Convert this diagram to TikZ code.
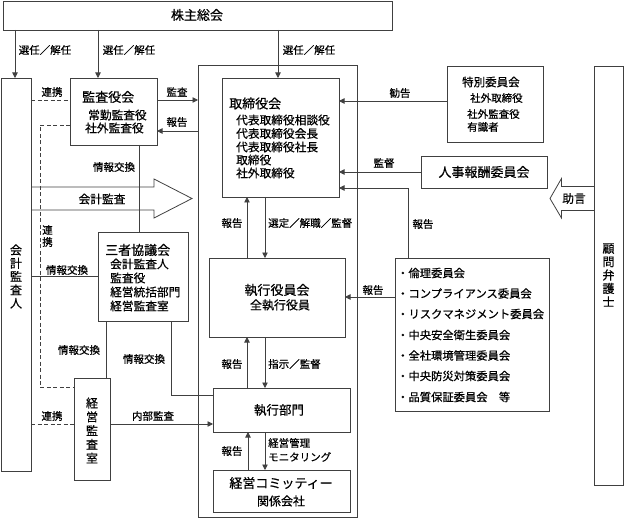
\documentclass[tikz,border=0pt]{standalone}
\usepackage{fontspec}
\setmainfont{Noto Sans CJK JP}[FakeBold=0.6]
\usetikzlibrary{arrows.meta}
\newcommand\bx[5]{\node[box, anchor=north west, inner sep=0pt, outer sep=0pt, minimum width=#4pt-#2pt, minimum height=#5pt-#3pt] (#1) at (#2,#3) {};}
\begin{document}
\begin{tikzpicture}[x=1pt,y=-1pt,
  box/.style={draw=black!75, line width=0.8pt},
  ln/.style={draw=black!75, line width=0.8pt},
  arr/.style={ln, -{Triangle[length=5.5pt,width=5.5pt]}},
  dsh/.style={ln, dash pattern=on 4pt off 2.5pt},
  lb/.style={inner sep=0pt, font=\fontsize{10.5}{12}\selectfont},
  lbm/.style={inner sep=0pt, font=\fontsize{11.7}{13}\selectfont},
  tt/.style={inner sep=0pt, font=\fontsize{13}{15}\selectfont},
  st/.style={inner sep=0pt, font=\fontsize{11.7}{13}\selectfont},
  li/.style={inner sep=0pt, anchor=west, font=\fontsize{11.3}{13}\selectfont},
]
\useasboundingbox (0,0) rectangle (625,519);

% boxes
\bx{sh}{3}{1}{392}{30}
\bx{kaikei}{1}{78}{31}{471}
\bx{kansa}{70}{78}{157}{145}
\bx{outer}{198}{65}{357}{517}
\bx{tori}{222}{78}{339}{197}
\bx{tokubetsu}{447}{66}{543}{142}
\bx{jinji}{421}{156}{547}{188}
\bx{komon}{594}{66}{623}{485}
\bx{sansha}{98}{232}{188}{321}
\bx{keikan}{74}{378}{110}{480}
\bx{yakuin}{209}{258}{345}{337}
\bx{bumon}{213}{388}{350}{432}
\bx{comm}{213}{470}{350}{512}
\bx{iinkai}{395}{258}{549}{411}

% box texts
\node[tt] (shT) at (197,15) {株主総会};
\node[inner sep=0pt, align=center, font=\fontsize{12}{13.3}\selectfont] (kaikeiT) at (16,276.5) {会\\計\\監\\査\\人};
\node[inner sep=0pt, align=center, font=\fontsize{12}{13.4}\selectfont] (komonT) at (608.5,275) {顧\\問\\弁\\護\\士};
\node[inner sep=0pt, align=center, font=\fontsize{12}{13.8}\selectfont] (keikanT) at (92,430.5) {経\\営\\監\\査\\室};

\node[tt, anchor=west] (kansaT) at (82,97) {監査役会};
\node[st, anchor=west] (kansa1) at (88,115) {常勤監査役};
\node[st, anchor=west] (kansa2) at (85,128) {社外監査役};

\node[tt, anchor=west] (toriT) at (229,103.5) {取締役会};
\node[st, anchor=west] (tori1) at (236,120) {代表取締役相談役};
\node[st, anchor=west] (tori2) at (236,133.5) {代表取締役会長};
\node[st, anchor=west] (tori3) at (236,147) {代表取締役社長};
\node[st, anchor=west] (tori4) at (236,160) {取締役};
\node[st, anchor=west] (tori5) at (236,173) {社外取締役};

\node[inner sep=0pt, anchor=west, font=\fontsize{11.5}{13}\selectfont] (tokuT) at (462,82) {特別委員会};
\node[lb, anchor=west] (toku1) at (470,98) {社外取締役};
\node[lb, anchor=west] (toku2) at (467,114) {社外監査役};
\node[lb, anchor=west] (toku3) at (467,127) {有識者};

\node[tt] (jinjiT) at (484,172) {人事報酬委員会};

\node[tt, anchor=west] (sanshaT) at (105,250) {三者協議会};
\node[st, anchor=west] (sansha1) at (110,264) {会計監査人};
\node[st, anchor=west] (sansha2) at (110,278) {監査役};
\node[st, anchor=west] (sansha3) at (110,292) {経営統括部門};
\node[st, anchor=west] (sansha4) at (110,306) {経営監査室};

\node[tt] (yakuinT) at (277,290) {執行役員会};
\node[inner sep=0pt, font=\fontsize{12}{13}\selectfont] (yakuin1) at (280,305) {全執行役員};
\node[inner sep=0pt, font=\fontsize{12.5}{14}\selectfont] (bumonT) at (279,410) {執行部門};
\node[tt] (commT) at (281,483) {経営コミッティー};
\node[inner sep=0pt, font=\fontsize{12}{13}\selectfont] (comm1) at (281,501) {関係会社};

\node[li] (i1) at (397,273) {・倫理委員会};
\node[li] (i2) at (397,293.5) {・コンプライアンス委員会};
\node[li] (i3) at (397,314) {・リスクマネジメント委員会};
\node[li] (i4) at (397,335) {・中央安全衛生委員会};
\node[li] (i5) at (397,355.5) {・全社環境管理委員会};
\node[li] (i6) at (397,376) {・中央防災対策委員会};
\node[li] (i7) at (397,397) {・品質保証委員会　等};

% top arrows
\draw[arr] (sh.south -| 15,0) -- (kaikei.north -| 15,0);
\draw[arr] (sh.south -| 98,0) -- (kansa.north -| 98,0);
\draw[arr] (sh.south -| 278,0) -- (tori.north -| 278,0);
\node[lb] (l1) at (45,50) {選任／解任};
\node[lb] (l2) at (129,50) {選任／解任};
\node[lb] (l3) at (309,50) {選任／解任};

% kansa <-> outer
\draw[arr] (kansa.east |- 0,100) -- (outer.west |- 0,100);
\draw[arr] (outer.west |- 0,131) -- (kansa.east |- 0,131);
\node[lb] (l4) at (177,92) {監査};
\node[lb] (l5) at (177,122) {報告};

% right side into tori
\draw[arr] (tokubetsu.west |- 0,101) -- (tori.east |- 0,101);
\node[lb] (l6) at (400,93) {勧告};
\draw[arr] (jinji.west |- 0,172) -- (tori.east |- 0,172);
\node[lb] (l7) at (384,163) {監督};
\draw[arr] (iinkai.north -| 408,0) |- (tori.east |- 0,188);
\node[lb] (l8) at (423,224) {報告};

% hollow arrows
\draw[ln] (kaikei.east |- 0,187) -- (154,187) -- (154,179) -- (192,198.5) -- (154,218) -- (154,210) -- (kaikei.east |- 0,210);
\node[lbm] (l9) at (102,199) {会計監査};
\draw[ln] (komon.west |- 0,186.5) -- (561.5,186.5) -- (561.5,178.5) -- (550,198.5) -- (561.5,218) -- (561.5,210.5) -- (komon.west |- 0,210.5);
\node[lbm] (l10) at (574,198.5) {助言};

% left side connectors
\draw[dsh] (kaikei.east |- 0,100) -- (kansa.west |- 0,100);
\node[lb] (l11) at (52,92) {連携};
\draw[dsh] (kansa.west |- 0,125) -| (40,387) -- (keikan.west |- 0,387);
\node[inner sep=0pt, align=center, font=\fontsize{10.5}{12}\selectfont] (l12) at (47.5,236) {連\\携};
\draw[ln] (kansa.south -| 139,0) -- (sansha.north -| 139,0);
\node[lb] (l13) at (114,167) {情報交換};
\draw[ln] (kaikei.east |- 0,276) -- (sansha.west |- 0,276);
\node[lb] (l14) at (67,270) {情報交換};
\draw[ln] (sansha.south -| 106,0) -- (keikan.north -| 106,0);
\node[lb] (l15) at (79,350) {情報交換};
\draw[ln] (sansha.south -| 171,0) |- (bumon.west |- 0,395);
\node[lb] (l16) at (144,359) {情報交換};
\draw[dsh] (kaikei.east |- 0,424) -- (keikan.west |- 0,424);
\node[lb] (l17) at (52,416) {連携};
\draw[arr] (keikan.east |- 0,424) -- (bumon.west |- 0,424);
\node[lb] (l18) at (153,416) {内部監査};

% centre vertical connectors
\draw[arr] (yakuin.north -| 247,0) -- (tori.south -| 247,0);
\draw[arr] (tori.south -| 265,0) -- (yakuin.north -| 265,0);
\node[lb] (l19) at (232,223) {報告};
\node[lb, anchor=west] (l20) at (268,223) {選定／解職／監督};
\draw[arr] (bumon.north -| 247,0) -- (yakuin.south -| 247,0);
\draw[arr] (yakuin.south -| 265,0) -- (bumon.north -| 265,0);
\node[lb] (l21) at (232,364) {報告};
\node[lb, anchor=west] (l22) at (268,364) {指示／監督};
\draw[arr] (comm.north -| 248,0) -- (bumon.south -| 248,0);
\draw[arr] (bumon.south -| 265,0) -- (comm.north -| 265,0);
\node[lb] (l23) at (232,451) {報告};
\node[lb, anchor=west] (l24) at (268,443) {経営管理};
\node[lb, anchor=west] (l25) at (268,457) {モニタリング};

% list -> yakuin
\draw[arr] (iinkai.west |- 0,297) -- (yakuin.east |- 0,297);
\node[lb] (l26) at (373,290) {報告};
\end{tikzpicture}
\end{document}
